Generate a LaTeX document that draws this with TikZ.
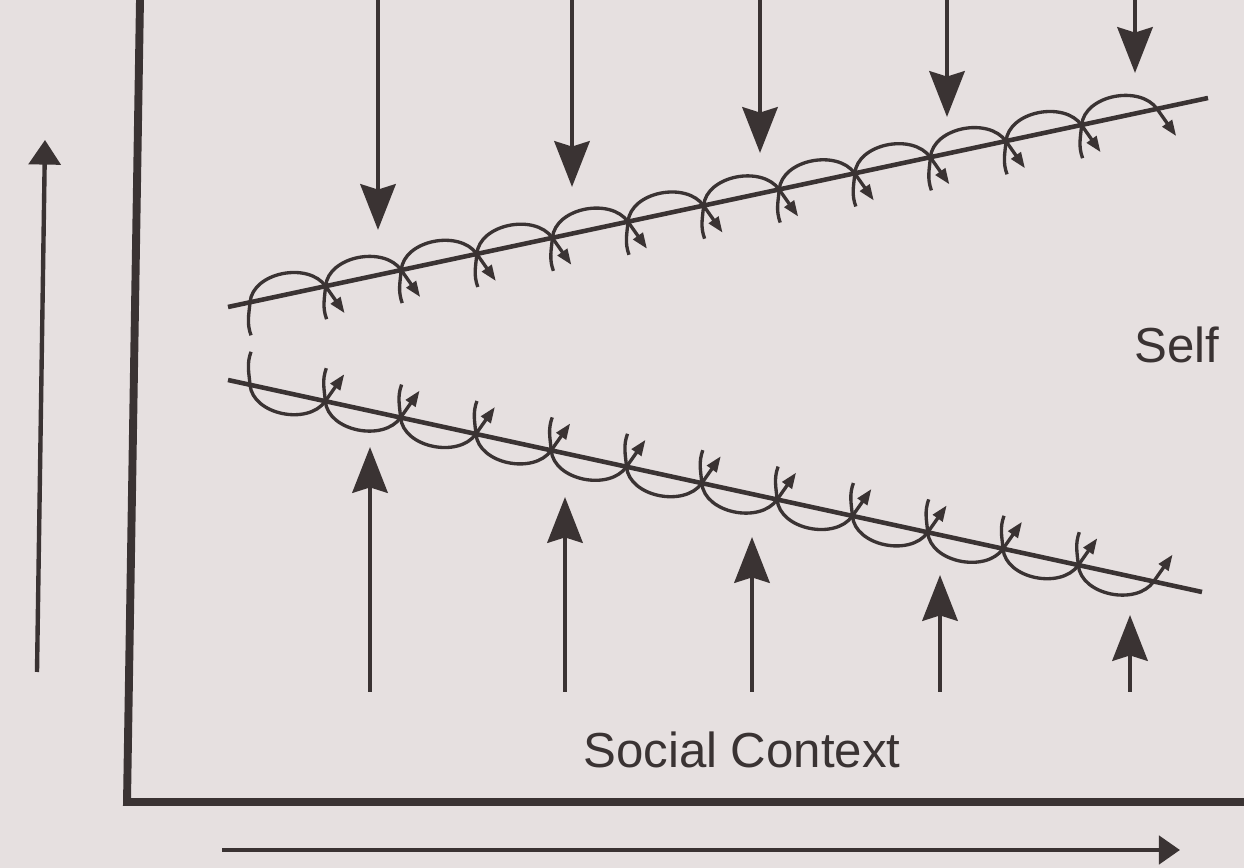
\documentclass[tikz,border=0pt]{standalone}
\usepackage{fontspec}
\setmainfont{Liberation Sans}
\usetikzlibrary{arrows.meta}
\definecolor{ink}{HTML}{3A3333}
\definecolor{paper}{HTML}{E6E0E0}
\tikzset{
  axis/.style={draw=ink, line width=4.5pt, line join=miter},
  slope/.style={draw=ink, line width=2.6pt},
  coil/.style={draw=ink, line width=1.9pt, -{Triangle[length=9pt,width=6.5pt]}},
  bigarrow/.style={draw=ink, fill=ink, line width=2.8pt, -{Stealth[length=26pt,width=20pt,inset=3pt]}},
  thinarrow/.style={draw=ink, fill=ink, line width=2.5pt},
  caption/.style={text=ink, font=\fontsize{28}{30}\selectfont}
}
\begin{document}
\begin{tikzpicture}[x=0.02cm, y=0.02cm]
  \fill[paper] (0,0) rectangle (1244,868);
  \useasboundingbox (0,0) rectangle (1244,868);

  \coordinate (axtop) at (140,868);
  \coordinate (origin) at (127,66);
  \coordinate (axend) at (1244,66);
  \draw[axis] (axtop) -- (origin) -- (axend);

  \coordinate (ls) at (37,196);
  \coordinate (le) at (45,728);
  \draw[thinarrow, -{Triangle[length=14pt,width=18pt]}] (ls) -- (le);
  \coordinate (bs) at (222,18);
  \coordinate (be) at (1180,18);
  \draw[thinarrow, -{Triangle[length=12pt,width=16pt]}] (bs) -- (be);

  \coordinate (ua) at (228,561);
  \coordinate (ub) at (1208,770);
  \coordinate (la) at (228,488);
  \coordinate (lb) at (1202,276);
  \draw[slope] (ua) -- (ub);
  \draw[slope] (la) -- (lb);

  \foreach \i in {0,...,12} {
    \coordinate (u\i) at ({250+75.6*\i},{565.7+16.1*\i});
    \coordinate (l\i) at ({250+75.3*\i},{483.2-16.4*\i});
  }
  \foreach \i [evaluate=\i as \j using int(\i+1)] in {0,...,11} {
    \draw[coil] ([shift={(1,-33)}]u\i) to[out=110,in=-95] (u\i)
                to[out=85,in=125] (u\j) -- ++(19,-27);
    \draw[coil] ([shift={(1,33)}]l\i) to[out=-110,in=95] (l\i)
                to[out=-85,in=-125] (l\j) -- ++(19,27);
  }

  \foreach \n/\x/\t in {1/378/638, 2/572/681, 3/760/715, 4/947/751, 5/1135/795} {
    \coordinate (top\n) at (\x,868);
    \coordinate (tip\n) at (\x,\t);
    \draw[bigarrow] (top\n) -- (tip\n);
  }
  \foreach \n/\x/\t in {1/370/421, 2/565/371, 3/752/331, 4/940/293, 5/1130/253} {
    \coordinate (bot\n) at (\x,176);
    \coordinate (head\n) at (\x,\t);
    \draw[bigarrow] (bot\n) -- (head\n);
  }

  \node[caption] (self) at (1177,523) {Self};
  \node[caption] (context) at (742,118) {Social Context};
\end{tikzpicture}
\end{document}
